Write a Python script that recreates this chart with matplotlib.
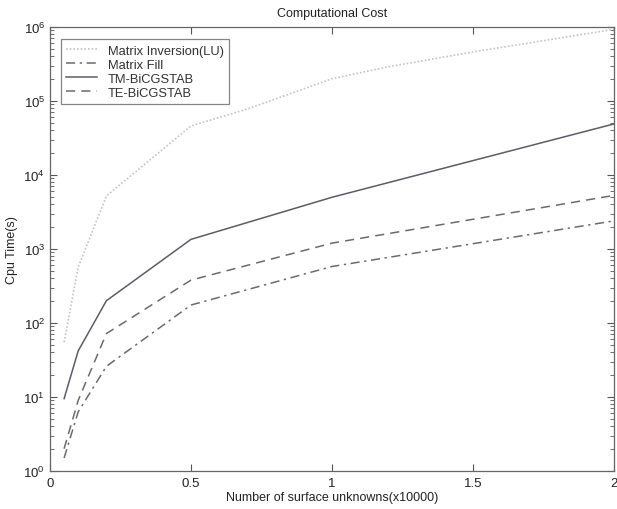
import matplotlib
matplotlib.use("Agg")
import matplotlib.pyplot as plt
from matplotlib.ticker import LogLocator

plt.rcParams['font.family'] = ['Liberation Sans', 'DejaVu Sans']
plt.rcParams['mathtext.fontset'] = 'custom'
plt.rcParams['mathtext.rm'] = 'Liberation Sans'
plt.rcParams['mathtext.it'] = 'Liberation Sans'

# Data (x in units of 10000 surface unknowns, CPU time in seconds)
x_inv = [0.05, 0.1, 0.2, 0.5, 0.7, 1.0, 1.2, 1.5, 2.0]
t_inv = [55, 570, 5200, 46000, 78000, 200000, 290000, 460000, 930000]

x_main = [0.05, 0.1, 0.2, 0.5, 1.0, 2.0]
t_fill = [1.5, 6.3, 26, 175, 580, 2400]
t_tm = [9.5, 42, 200, 1350, 5000, 49000]
t_te = [2.0, 9, 72, 380, 1200, 5300]

x_ticks = [0, 0.5, 1, 1.5, 2]
x_ticklabels = ['0', '0.5', '1', '1.5', '2']

fig = plt.figure(figsize=(6.17, 5.10), dpi=100)
ax = fig.add_axes([50/617, 38/510, 564/617, 444/510])

ax.plot(x_inv, t_inv, linestyle=(0, (1, 1.2)), color='#c4c4c4', lw=1.2, label='Matrix Inversion(LU)')
ax.plot(x_main, t_fill, linestyle=(0, (6, 3, 1.5, 3)), color='#6a6a72', lw=1.1, label='Matrix Fill')
ax.plot(x_main, t_tm, linestyle='-', color='#5c5c68', lw=1.1, label='TM-BiCGSTAB')
ax.plot(x_main, t_te, linestyle=(0, (6, 4)), color='#6a6a72', lw=1.1, label='TE-BiCGSTAB')

ax.set_yscale('log')
ax.set_xlim(0, 2)
ax.set_ylim(1, 1e6)
ax.set_xticks(x_ticks)
ax.set_xticklabels(x_ticklabels)
ax.yaxis.set_minor_locator(LogLocator(base=10, subs=range(2, 10), numticks=100))
ax.set_yticks([10**i for i in range(0, 7)])
ax.set_yticklabels([r'$\mathregular{10^{%d}}$' % i for i in range(0, 7)], fontsize=9.5)

ax.tick_params(which='both', direction='in', top=True, right=True, colors='#555555', labelcolor='#222222')
ax.tick_params(which='major', length=5, width=0.8, labelsize=9.5)
ax.tick_params(which='minor', length=3, width=0.6)
ax.tick_params(axis='x', pad=4)
for s in ax.spines.values():
    s.set_color('#666666')
    s.set_linewidth(0.9)

ax.set_title('Computational Cost', fontsize=9, color='#222222', pad=8)
ax.set_xlabel('Number of surface unknowns(x10000)', fontsize=9, color='#222222', labelpad=2)
ax.set_ylabel('Cpu Time(s)', fontsize=9, color='#222222', labelpad=4)

leg = ax.legend(loc='upper left', bbox_to_anchor=(0.02, 0.972), fontsize=9.3, frameon=True,
                fancybox=False, edgecolor='#666666', handlelength=2.4, handletextpad=0.8,
                borderpad=0.4, labelspacing=0.15, borderaxespad=0.0)
leg.get_frame().set_linewidth(0.9)
for t in leg.get_texts():
    t.set_color('#333333')

fig.savefig('out.png', dpi=100)
